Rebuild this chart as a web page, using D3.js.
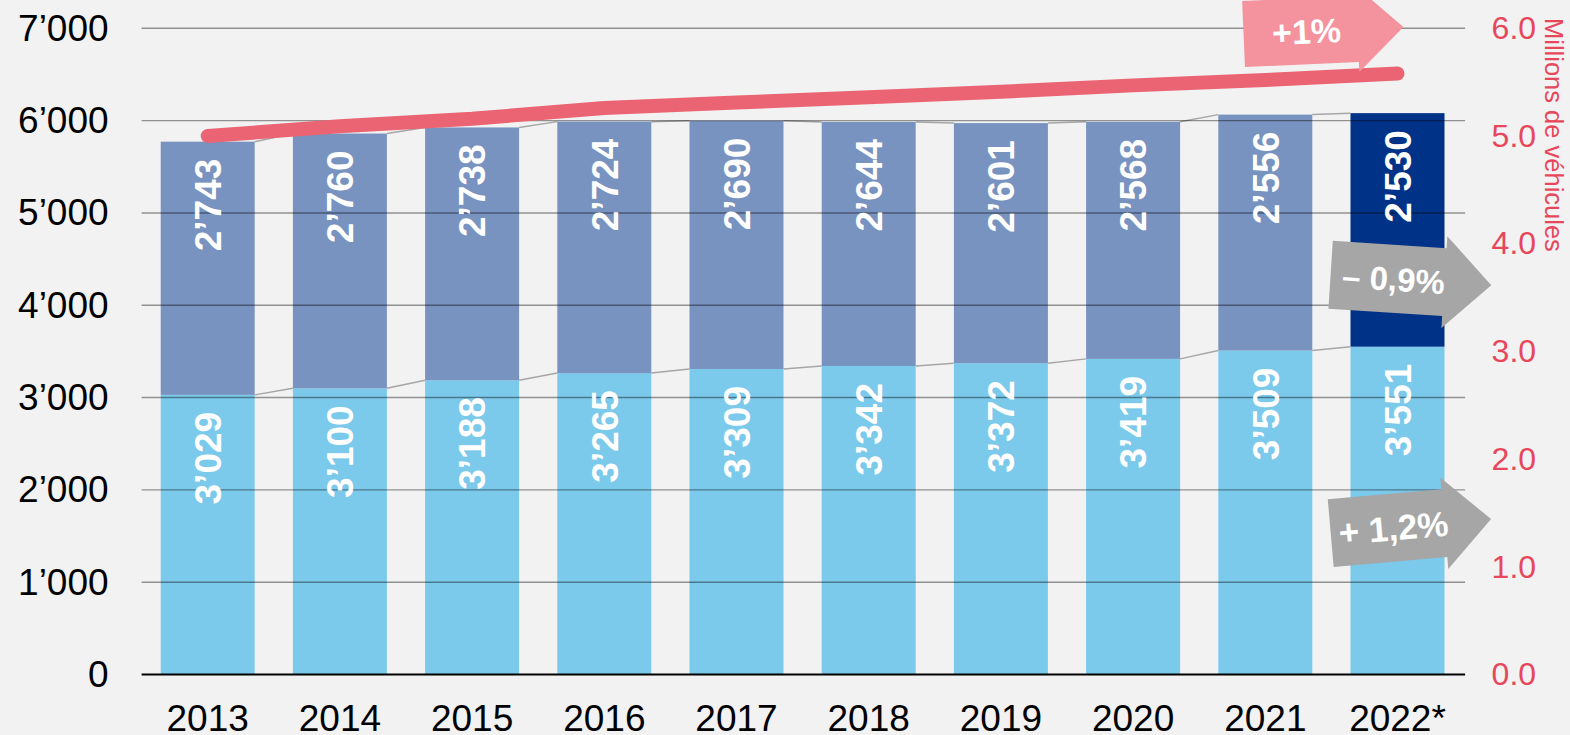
<!DOCTYPE html>
<html>
<head>
<meta charset="utf-8">
<script src="https://cdn.jsdelivr.net/npm/d3@7"></script>
<style>
  html, body { margin: 0; padding: 0; background: #F2F2F2; }
  svg { display: block; font-family: "Liberation Sans", Arial, sans-serif; }
</style>
</head>
<body>
<div id="chart"></div>
<script>
/**
 * Data
 */
const years = ["2013", "2014", "2015", "2016", "2017", "2018", "2019", "2020", "2021", "2022*"]
const lowerSegment = [3029, 3100, 3188, 3265, 3309, 3342, 3372, 3419, 3509, 3551]
const upperSegment = [2743, 2760, 2738, 2724, 2690, 2644, 2601, 2568, 2556, 2530]
const fleetMillions = [5.00, 5.09, 5.16, 5.26, 5.31, 5.36, 5.41, 5.47, 5.52, 5.58]
const leftTicks = [0, 1000, 2000, 3000, 4000, 5000, 6000, 7000]
const rightTicks = [0, 1, 2, 3, 4, 5, 6]
const rightTitle = "Millions de véhicules"

// annotation arrows (label, anchored on a year and a value)
const arrowLabels = ["+1%", "– 0,9%", "+ 1,2%"]

/**
 * Sizes
 */
const width = 1570, height = 735
const plot = { left: 141.6, right: 1463.6, top: 28.3, bottom: 674.5 }

const colors = {
    lower: "#7BC9EB",
    upper: "#7893C0",
    upperLast: "#003287",
    line: "#EB6473",
    red: "#E8475B",
    connector: "#A6A6A6",
    grey: "#A6A6A6",
    pink: "#F4929D"
}

const svg = d3.select("#chart")
    .append("svg")
        .attr("width", width)
        .attr("height", height)

svg.append("rect").attr("width", width).attr("height", height).attr("fill", "#F2F2F2")

/**
 * Scales
 */
const x = d3.scaleBand()
    .domain(years)
    .range([plot.left, plot.right])
    .paddingInner(0.289)
    .paddingOuter(0.1445)

const y = d3.scaleLinear().domain([0, 7000]).range([plot.bottom, plot.top])
const yR = d3.scaleLinear().domain([0, 6]).range([plot.bottom, plot.top])

const rows = years.map((yr, i) => ({ year: yr, lower: lowerSegment[i], upper: upperSegment[i] }))
const stacked = d3.stack().keys(["lower", "upper"])(rows)
const bw = x.bandwidth()

/**
 * Bars
 */
stacked.forEach(layer => {
    svg.append("g")
        .selectAll("rect")
        .data(layer)
        .enter()
        .append("rect")
            .attr("x", d => x(d.data.year))
            .attr("y", d => y(d[1]))
            .attr("width", bw)
            .attr("height", d => y(d[0]) - y(d[1]))
            .attr("fill", (d, i) => layer.key === "lower" ? colors.lower
                : (i === years.length - 1 ? colors.upperLast : colors.upper))
})

// series connector lines between bars
stacked.forEach(layer => {
    svg.append("g")
        .selectAll("line")
        .data(layer.slice(0, -1))
        .enter()
        .append("line")
            .attr("x1", d => x(d.data.year) + bw)
            .attr("y1", d => y(d[1]))
            .attr("x2", (d, i) => x(years[i + 1]))
            .attr("y2", (d, i) => y(layer[i + 1][1]))
            .attr("stroke", colors.connector)
            .attr("stroke-width", 1.5)
})

// gridlines (drawn over the bars)
svg.append("g")
    .selectAll("line")
    .data(leftTicks.filter(t => t > 0))
    .enter()
    .append("line")
        .attr("x1", plot.left)
        .attr("x2", plot.right + 1.5)
        .attr("y1", d => y(d))
        .attr("y2", d => y(d))
        .attr("stroke", "#000")
        .attr("stroke-opacity", 0.4)
        .attr("stroke-width", 1.4)

// baseline
svg.append("line")
    .attr("x1", plot.left).attr("x2", plot.right + 1.5)
    .attr("y1", y(0)).attr("y2", y(0))
    .attr("stroke", "#000").attr("stroke-width", 2)

/**
 * Bar labels
 */
const fmt = d => d3.format(",")(d).replace(/,/g, "’")

stacked.forEach(layer => {
    svg.append("g")
        .selectAll("text")
        .data(layer)
        .enter()
        .append("text")
            .attr("transform", d => {
                const cx = x(d.data.year) + bw / 2
                const ty = y(d[1]) + 17
                return `translate(${cx},${ty}) rotate(-90)`
            })
            .attr("text-anchor", "end")
            .attr("dy", "0.36em")
            .attr("fill", "#fff")
            .attr("font-weight", "bold")
            .attr("font-size", 37)
            .text(d => fmt(d[1] - d[0]))
})

/**
 * Axes
 */
const xAxis = svg.append("g")
    .attr("transform", `translate(0,${plot.bottom})`)
    .call(d3.axisBottom(x).tickSize(0).tickPadding(30))
xAxis.select(".domain").remove()
xAxis.selectAll("text").attr("font-size", 37).attr("fill", "#000")
    .attr("font-family", "Liberation Sans, Arial, sans-serif")

const yAxis = svg.append("g")
    .attr("transform", `translate(${plot.left},0)`)
    .call(d3.axisLeft(y).tickValues(leftTicks).tickSize(0).tickPadding(33)
        .tickFormat(d => d === 0 ? "0" : fmt(d)))
yAxis.select(".domain").remove()
yAxis.selectAll("text").attr("font-size", 37).attr("fill", "#000")
    .attr("font-family", "Liberation Sans, Arial, sans-serif")

const yRAxis = svg.append("g")
    .attr("transform", `translate(${plot.right},0)`)
    .call(d3.axisRight(yR).tickValues(rightTicks).tickSize(0).tickPadding(28)
        .tickFormat(d3.format(".1f")))
yRAxis.select(".domain").remove()
yRAxis.selectAll("text").attr("font-size", 32).attr("fill", colors.red)
    .attr("font-family", "Liberation Sans, Arial, sans-serif")

svg.append("text")
    .attr("transform", `translate(1554,${yR(5.01)}) rotate(90)`)
    .attr("text-anchor", "middle")
    .attr("dy", "0.36em")
    .attr("font-size", 25.5)
    .attr("fill", colors.red)
    .text(rightTitle)

/**
 * Line (right axis)
 */
const line = d3.line()
    .x((d, i) => x(years[i]) + bw / 2)
    .y(d => yR(d))

svg.append("path")
    .datum(fleetMillions)
    .attr("d", line)
    .attr("fill", "none")
    .attr("stroke", colors.line)
    .attr("stroke-width", 14)
    .attr("stroke-linecap", "round")
    .attr("stroke-linejoin", "round")

/**
 * Arrow annotations
 */
const last = years[years.length - 1]
const arrows = [
    { label: arrowLabels[0], cx: x(last) + bw / 2 - 97, cy: yR(5.97), angle: -2.5, fill: colors.pink, hw: 57, hh: 33, head: 43, len: 46, fs: 34 },
    { label: arrowLabels[1], cx: x(last) + bw / 2 - 10, cy: y(4290), angle: 3.7, fill: colors.grey, hw: 57, hh: 34, head: 46, len: 47, fs: 33 },
    { label: arrowLabels[2], cx: x(last) + bw / 2 - 10, cy: y(1585), angle: -5, fill: colors.grey, hw: 57, hh: 34, head: 46, len: 47, fs: 35 }
]

arrows.forEach(a => {
    const g = svg.append("g")
        .attr("transform", `translate(${a.cx},${a.cy}) rotate(${a.angle})`)
    const pts = [
        [-a.hw, -a.hh], [a.hw, -a.hh], [a.hw, -a.head], [a.hw + a.len, 0],
        [a.hw, a.head], [a.hw, a.hh], [-a.hw, a.hh]
    ]
    g.append("polygon")
        .attr("points", pts.map(p => p.join(",")).join(" "))
        .attr("fill", a.fill)
    g.append("text")
        .attr("x", 6)
        .attr("text-anchor", "middle")
        .attr("dy", "0.36em")
        .attr("fill", "#fff")
        .attr("font-weight", "bold")
        .attr("font-size", a.fs)
        .text(a.label)
})
</script>
</body>
</html>
